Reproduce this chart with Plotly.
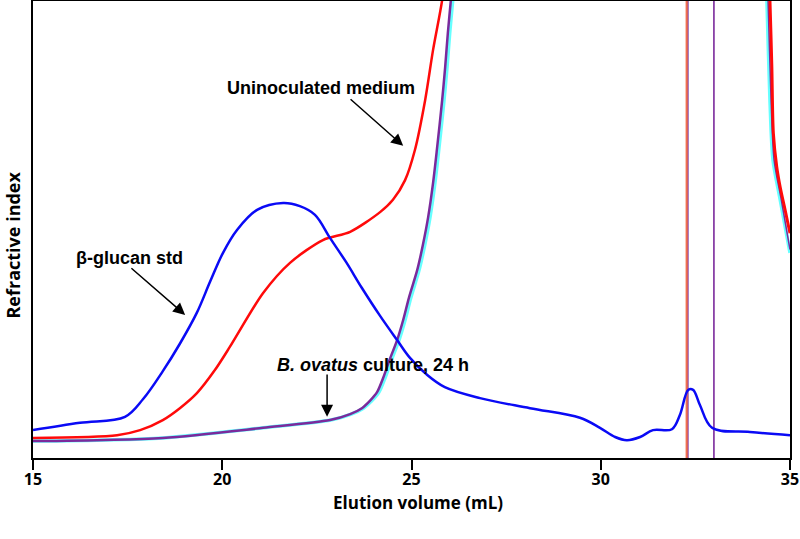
import plotly.graph_objects as go

# ---------------- data (elution volume in mL, refractive index in arbitrary units) ----------------
# beta-glucan standard (blue)
glucan_x = [15.00, 16.24, 17.43, 17.91, 18.43, 18.88, 19.33, 19.68, 20.02, 20.39, 20.92, 21.61,
            22.05, 22.45, 22.85, 23.27, 23.69, 24.17, 24.62, 24.96, 25.41, 25.88, 26.81, 28.13,
            29.45, 29.98, 30.38, 30.69, 31.04, 31.38, 31.88, 32.09, 32.31, 32.44, 32.62, 32.94,
            33.94, 35.00]
glucan_y = [6.1, 7.7, 9.0, 12.9, 19.0, 25.0, 31.8, 38.6, 44.9, 49.9, 54.3, 55.8,
            55.1, 53.2, 48.1, 42.9, 37.2, 31.1, 25.8, 21.9, 18.2, 15.5, 13.1, 10.9,
            8.8, 6.6, 4.6, 3.9, 4.6, 6.1, 6.3, 9.4, 14.9, 14.9, 11.6, 6.6,
            5.7, 5.0]

# uninoculated medium (red)
medium_x = [15.00, 17.22, 17.83, 18.43, 18.88, 19.33, 19.81, 20.20, 21.08, 21.79, 22.66, 23.38,
            24.17, 24.51, 24.83, 25.09, 25.36, 25.57, 25.81, 25.95]
medium_y = [4.4, 5.0, 6.1, 8.3, 10.9, 14.2, 19.3, 24.3, 36.1, 42.7, 47.7, 49.5,
            53.8, 56.5, 60.8, 67.4, 78.3, 89.3, 100.2, 110.0]
medium_spike_x = [32.26, 32.28]
medium_right_x = [34.43, 34.47, 34.52, 34.56, 34.65, 34.74, 34.87, 35.00]
medium_right_y = [110.0, 100.2, 85.6, 71.1, 63.7, 59.3, 54.3, 49.2]

# B. ovatus culture, 24 h (purple, with cyan replicate underneath)
ovatus_x = [15.00, 18.43, 21.08, 22.85, 23.38, 23.69, 23.90, 24.09, 24.25, 24.43, 24.62, 24.78,
            24.93, 25.15, 25.30, 25.44, 25.57, 25.67, 25.81, 25.89, 25.96, 26.04, 26.12]
ovatus_y = [3.7, 4.4, 6.6, 8.3, 9.6, 10.9, 12.5, 14.4, 17.5, 21.7, 25.8, 30.2,
            35.0, 41.1, 46.6, 52.7, 60.2, 67.4, 78.3, 85.6, 93.0, 100.2, 108.0]
ovatus_spike_x = [32.30, 32.99]
ovatus_right_x = [34.38, 34.42, 34.50, 34.58, 34.77, 35.00]
ovatus_right_y = [110.0, 100.2, 78.3, 65.2, 56.5, 45.6]

cyan_x = [15.00, 18.43, 21.08, 22.87, 23.41, 23.73, 23.95, 24.14, 24.30, 24.48, 24.67, 24.83,
          24.98, 25.20, 25.35, 25.49, 25.62, 25.72, 25.86, 25.94, 26.01, 26.09, 26.17]
cyan_y = ovatus_y
cyan_spike_x = [32.28, 32.29]
cyan_right_x = [34.35, 34.39, 34.47, 34.55, 34.74, 35.00]
cyan_right_y = [110.0, 100.2, 78.3, 65.2, 56.5, 44.9]

x_ticks = [15, 20, 25, 30, 35]

# ---------------- styles ----------------
BLUE = "#0a0af5"
RED = "#ff0a0a"
PURPLE = "#7b2a9c"
CYAN = "#66ffff"
OFF_HIGH = 130
OFF_LOW = -20

fig = go.Figure()


def add_series(x, y, color, width, smoothing=0.8):
    fig.add_trace(go.Scatter(x=x, y=y, mode="lines",
                             line=dict(color=color, width=width, shape="spline", smoothing=smoothing),
                             showlegend=False, hoverinfo="skip"))


def add_spike(xs, color, width):
    # signal drops from above the plot to below it and comes back up
    fig.add_trace(go.Scatter(x=[xs[0], xs[0], xs[1], xs[1]],
                             y=[OFF_HIGH, OFF_LOW, OFF_LOW, OFF_HIGH], mode="lines",
                             line=dict(color=color, width=width, shape="linear"),
                             showlegend=False, hoverinfo="skip"))


# cyan replicate (bottom)
add_series(cyan_x, cyan_y, CYAN, 3.5)
add_spike(cyan_spike_x, CYAN, 1.6)
add_series(cyan_right_x, cyan_right_y, CYAN, 3.5)
# purple
add_series(ovatus_x, ovatus_y, PURPLE, 2.5)
add_spike(ovatus_spike_x, PURPLE, 1.6)
add_series(ovatus_right_x, ovatus_right_y, PURPLE, 1.5)
# red
add_series(medium_x, medium_y, RED, 2.5)
add_spike(medium_spike_x, "#f07050", 1.4)
add_series(medium_right_x, medium_right_y, RED, 3)
# blue
add_series(glucan_x, glucan_y, BLUE, 2.5, smoothing=1.0)

ANN_FONT = dict(family="Liberation Sans, Arial, sans-serif", size=18, color="black")
AX_FONT = dict(family="Open Sans, sans-serif", size=17, color="black")

annotations = [
    dict(x=22.61, y=81.0, xref="x", yref="y", text="<b>Uninoculated medium</b>",
         showarrow=False, font=ANN_FONT, xanchor="center", yanchor="middle"),
    dict(x=17.56, y=43.8, xref="x", yref="y", text="<b>β-glucan std</b>",
         showarrow=False, font=ANN_FONT, xanchor="center", yanchor="middle"),
    dict(x=21.39, y=20.4, xref="x", yref="y", text="<b><i>B. ovatus</i> culture, 24 h</b>",
         showarrow=False, font=ANN_FONT, xanchor="left", yanchor="middle"),
    # arrows
    dict(x=24.78, y=68.3, ax=23.35, ay=78.8, xref="x", yref="y", axref="x", ayref="y",
         text="", showarrow=True, arrowhead=2, arrowsize=1.6, arrowwidth=1.5, arrowcolor="black"),
    dict(x=19.02, y=31.3, ax=17.56, ay=41.8, xref="x", yref="y", axref="x", ayref="y",
         text="", showarrow=True, arrowhead=2, arrowsize=1.6, arrowwidth=1.5, arrowcolor="black"),
    dict(x=22.77, y=9.0, ax=22.77, ay=18.6, xref="x", yref="y", axref="x", ayref="y",
         text="", showarrow=True, arrowhead=2, arrowsize=1.6, arrowwidth=1.5, arrowcolor="black"),
    # axis titles
    dict(x=0.5086, y=-0.098, xref="paper", yref="paper", text="<b>Elution volume (mL)</b>",
         showarrow=False, font=AX_FONT, xanchor="center", yanchor="middle"),
    dict(x=-0.0264, y=0.465, xref="paper", yref="paper", text="<b>Refractive index</b>",
         showarrow=False, font=dict(family="Open Sans, sans-serif", size=18, color="black"),
         xanchor="center", yanchor="middle", textangle=-90),
]

fig.update_layout(
    width=800, height=539,
    margin=dict(l=33, r=10, t=1, b=81, autoexpand=False),
    paper_bgcolor="white", plot_bgcolor="white",
    annotations=annotations,
    xaxis=dict(range=[15, 35], tickvals=x_ticks, ticktext=["<b>%d</b>" % t for t in x_ticks],
               ticks="outside", ticklen=10, tickwidth=2, tickcolor="black",
               ticklabelstandoff=-4,
               showline=True, linecolor="black", linewidth=2, mirror=True,
               showgrid=False, zeroline=False, automargin=False,
               tickfont=dict(family="Open Sans, sans-serif", size=16, color="black")),
    yaxis=dict(range=[0, 100], showticklabels=False, ticks="",
               showline=True, linecolor="black", linewidth=2, mirror=True,
               showgrid=False, zeroline=False, automargin=False),
)

fig.write_html("out.html", config={"displayModeBar": False},
               post_script="document.body.style.margin='0px';")
